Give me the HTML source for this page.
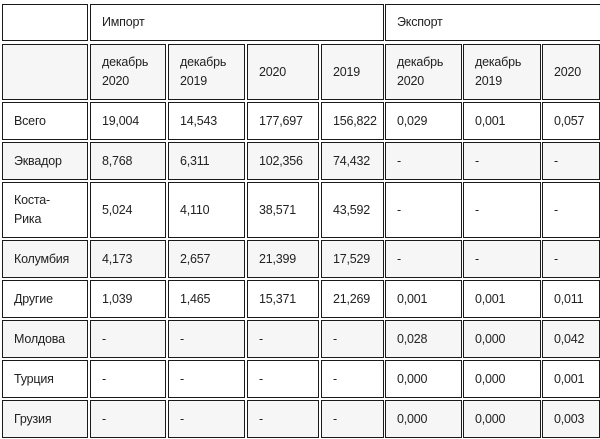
<!DOCTYPE html>
<html><head><meta charset="utf-8">
<style>
html,body{margin:0;padding:0;background:#fff;width:600px;height:439px;overflow:hidden;position:relative}
#t{position:absolute;left:0;top:0;width:600px;height:439px;overflow:hidden}
.c{position:absolute;box-sizing:border-box;border:1px solid #1a1a1a;font-family:"Liberation Sans","DejaVu Sans",sans-serif;font-size:12.5px;letter-spacing:-0.2px;color:#222;display:flex;align-items:center;padding-left:11px;line-height:19px;white-space:nowrap}
.g{background:#f6f6f6}
.open{border-right:none}
</style></head>
<body>
<div id="t"></div>
<script>
const colL=[2,90,168,247,321,385,463,542];
const colR=[88,166,245,319,384,462,541,600];
const rowT=[4,44,102,142,182,240,280,320,360,400];
const rowB=[41,100,140,180,238,278,318,358,398,438];
const headers=["","декабрь<br>2020","декабрь<br>2019","2020","2019","декабрь<br>2020","декабрь<br>2019","2020"];
const rows=[
["Всего","19,004","14,543","177,697","156,822","0,029","0,001","0,057"],
["Эквадор","8,768","6,311","102,356","74,432","-","-","-"],
["Коста-<br>Рика","5,024","4,110","38,571","43,592","-","-","-"],
["Колумбия","4,173","2,657","21,399","17,529","-","-","-"],
["Другие","1,039","1,465","15,371","21,269","0,001","0,001","0,011"],
["Молдова","-","-","-","-","0,028","0,000","0,042"],
["Турция","-","-","-","-","0,000","0,000","0,001"],
["Грузия","-","-","-","-","0,000","0,000","0,003"]
];
const t=document.getElementById('t');
function cell(x1,x2,y1,y2,html,grey,open){
  const d=document.createElement('div');
  d.className='c'+(grey?' g':'')+(open?' open':'');
  d.style.left=x1+'px';d.style.top=y1+'px';
  d.style.width=(x2-x1)+'px';d.style.height=(y2-y1)+'px';
  d.innerHTML=html;t.appendChild(d);return d;
}
let e=cell(colL[0],colR[0],rowT[0],rowB[0],"",false,false);


e=cell(colL[1],colR[4],rowT[0],rowB[0],"Импорт",false,false);


e=cell(colL[5],600,rowT[0],rowB[0],"Экспорт",false,true);


for(let i=0;i<8;i++){
  e=cell(colL[i],colR[i],rowT[1],rowB[1],headers[i],true,false);
  
  
}
for(let r=0;r<rows.length;r++){
  for(let i=0;i<8;i++){
    e=cell(colL[i],colR[i],rowT[r+2],rowB[r+2],rows[r][i],r%2===1,false);
    
    
  }
}
</script>
</body></html>
